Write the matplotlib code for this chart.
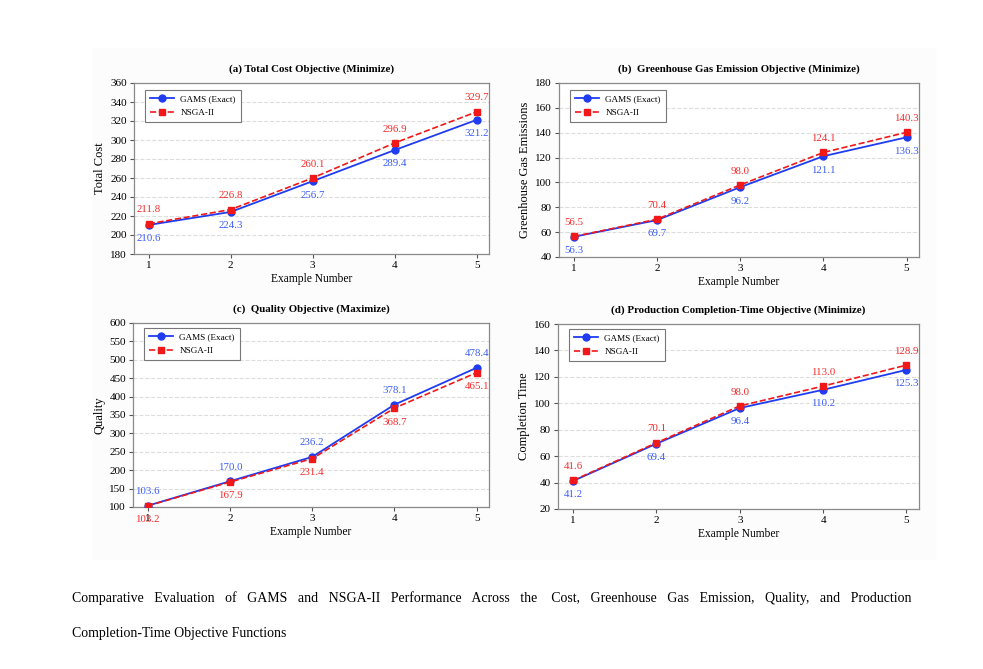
import matplotlib
matplotlib.use("Agg")
import matplotlib.pyplot as plt
from matplotlib.patches import Rectangle

plt.rcParams['font.family'] = ['Liberation Serif', 'DejaVu Serif']

examples = [1, 2, 3, 4, 5]

cost_gams = [210.6, 224.3, 256.7, 289.4, 321.2]
cost_nsga = [211.8, 226.8, 260.1, 296.9, 329.7]

ghg_gams = [56.3, 69.7, 96.2, 121.1, 136.3]
ghg_nsga = [56.5, 70.4, 98.0, 124.1, 140.3]

qual_gams = [103.6, 170.0, 236.2, 378.1, 478.4]
qual_nsga = [103.2, 167.9, 231.4, 368.7, 465.1]

time_gams = [41.2, 69.4, 96.4, 110.2, 125.3]
time_nsga = [41.6, 70.1, 98.0, 113.0, 128.9]

titles = ["(a) Total Cost Objective (Minimize)",
          "(b)  Greenhouse Gas Emission Objective (Minimize)",
          "(c)  Quality Objective (Maximize)",
          "(d) Production Completion-Time Objective (Minimize)"]
ylabels = ["Total Cost", "Greenhouse Gas Emissions", "Quality", "Completion Time"]
ylims = [(180, 360, 20), (40, 180, 20), (100, 600, 50), (20, 160, 20)]
series = [(cost_gams, cost_nsga), (ghg_gams, ghg_nsga),
          (qual_gams, qual_nsga), (time_gams, time_nsga)]
gams_above = [False, False, True, False]

caption1 = ("Comparative Evaluation of GAMS and NSGA-II Performance Across the Cost, "
            "Greenhouse Gas Emission, Quality, and Production")
caption2 = "Completion-Time Objective Functions"

W, H = 983, 669
fig = plt.figure(figsize=(W / 100, H / 100), dpi=100)
fig.patch.set_facecolor('white')

# faint background panel of the embedded figure
fig.add_artist(Rectangle((92 / W, 1 - 560 / H), (937 - 92) / W, (560 - 48) / H,
                         transform=fig.transFigure, facecolor='#fcfcfc',
                         edgecolor='none', zorder=-10))

rects_px = [(134, 83, 489, 254), (559, 83, 919, 257),
            (133, 323, 489, 507), (558, 324, 919, 509)]

BLUE = '#1f3cf0'
RED = '#f01818'
BLUE_T = '#3a5cf5'
RED_T = '#f52a2a'

for i, (x0, y0, x1, y1) in enumerate(rects_px):
    ax = fig.add_axes([x0 / W, 1 - y1 / H, (x1 - x0) / W, (y1 - y0) / H])
    ax.set_facecolor('white')
    g, n = series[i]
    ax.plot(examples, g, color=BLUE, marker='o', markersize=5, linewidth=1.3,
            linestyle='-', label='GAMS (Exact)', zorder=3)
    ax.plot(examples, n, color=RED, marker='s', markersize=5, linewidth=1.2,
            linestyle='--', label='NSGA-II', zorder=4)
    up_g = 10 if gams_above[i] else -10
    for x, vg, vn in zip(examples, g, n):
        ax.annotate(f"{vg:.1f}", (x, vg), xytext=(0, up_g), textcoords='offset points',
                    ha='center', va='center', color=BLUE_T, fontsize=7.8)
        ax.annotate(f"{vn:.1f}", (x, vn), xytext=(0, -up_g), textcoords='offset points',
                    ha='center', va='center', color=RED_T, fontsize=7.8)
    lo, hi, st = ylims[i]
    ax.set_ylim(lo, hi)
    ax.set_yticks(range(lo, hi + 1, st))
    ax.set_xlim(0.82, 5.15)
    ax.set_xticks(examples)
    ax.grid(axis='y', linestyle='--', color='#dddddd', linewidth=0.8)
    ax.set_axisbelow(True)
    for s in ax.spines.values():
        s.set_color('#8a8a8a')
        s.set_linewidth(0.9)
    ax.tick_params(direction='out', length=3, width=0.8, color='#555555',
                   labelsize=8, pad=2)
    ax.set_title(titles[i], fontsize=7.8, fontweight='bold', pad=8)
    ax.set_xlabel("Example Number", fontsize=8.3, labelpad=2)
    ax.set_ylabel(ylabels[i], fontsize=9, labelpad=3)
    top_gap = 7 if i < 2 else 5
    leg = ax.legend(loc='upper left', fontsize=6.6, fancybox=False, framealpha=1,
                    edgecolor='#777777', handlelength=2.6, handletextpad=0.7,
                    borderpad=0.55, labelspacing=0.55, borderaxespad=0,
                    bbox_to_anchor=(11 / (x1 - x0), 1 - top_gap / (y1 - y0)))
    leg.get_frame().set_linewidth(0.8)

# caption: first line justified by padding gaps with spaces (single baseline)
fig.canvas.draw()
renderer = fig.canvas.get_renderer()
left_px, right_px = 72, 911
FS = 10


def text_width(s):
    t = fig.text(0, 0, s, fontsize=FS)
    w = t.get_window_extent(renderer).width
    t.remove()
    return w


words = caption1.split(' ')
natural = text_width(caption1)
space_w = text_width("a" + " " * 20 + "a") - text_width("aa")
space_w /= 20
extra = (right_px - left_px - natural) / space_w
ngaps = len(words) - 1
per_gap = extra / ngaps
line = words[0]
acc = 0.0
for k, w in enumerate(words[1:], start=1):
    acc += per_gap
    n = int(round(acc))
    acc -= n
    line += " " * (1 + n) + w

fig.text(left_px / W, 1 - 602 / H, line, fontsize=FS, va='baseline', ha='left')
fig.text(left_px / W, 1 - 637 / H, caption2, fontsize=FS, va='baseline', ha='left')

fig.savefig("out.png", dpi=100)
